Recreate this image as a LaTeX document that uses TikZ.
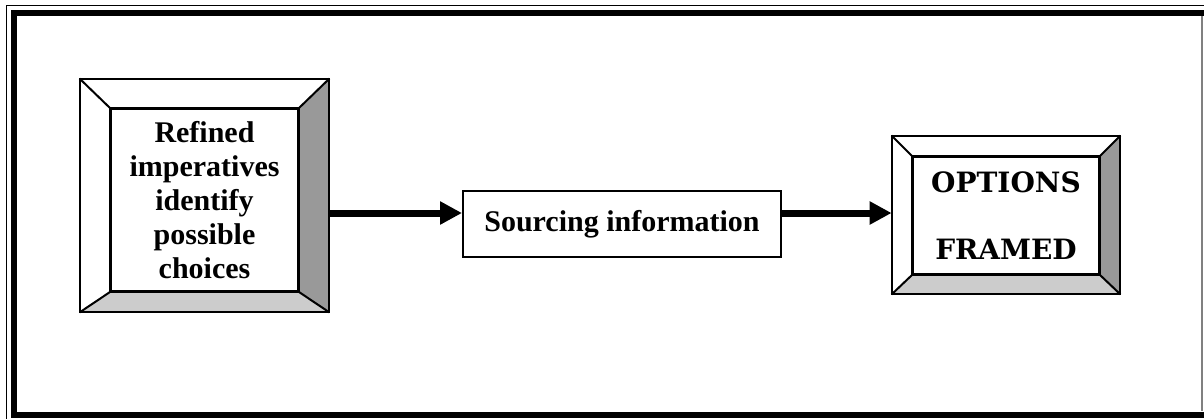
\documentclass[tikz,border=0pt]{standalone}
\usepackage{fontspec}
\setmainfont{Liberation Serif}
\newfontfamily\optfont{DejaVu Serif}
\usepackage{tikz}
\usetikzlibrary{arrows.meta}
\definecolor{bevdark}{HTML}{999999}
\definecolor{bevlight}{HTML}{CCCCCC}
\tikzstyle{outerbox} = [rectangle, inner sep=0pt]
\tikzstyle{innerbox} = [rectangle, draw=black, line width=1pt, fill=white, inner sep=0pt, text centered, align=center]
\tikzstyle{plainbox} = [rectangle, draw=black, line width=1pt, inner sep=0pt, text centered, font=\fontsize{15}{17}\selectfont\bfseries]
\tikzstyle{edge} = [line width=1pt, line join=miter]
\tikzstyle{arrow} = [line width=3.5pt, -{Triangle[length=11pt, width=11pt]}]
% bevelled frame between an outer node #1 and an inner node #2
\newcommand{\bevel}[2]{%
  \fill[bevdark] (#1.north east) -- (#1.south east) -- (#2.south east) -- (#2.north east) -- cycle;
  \fill[bevlight] (#1.south west) -- (#1.south east) -- (#2.south east) -- (#2.south west) -- cycle;
  \draw[edge] (#1.north west) -- (#2.north west) (#1.north east) -- (#2.north east)
              (#1.south west) -- (#2.south west) (#1.south east) -- (#2.south east);
  \draw[edge] (#1.south west) rectangle (#1.north east);
  \draw[edge] (#2.south west) rectangle (#2.north east);
}
\begin{document}
\begin{tikzpicture}[x=0.5pt, y=-0.5pt]
    \useasboundingbox (0,0) rectangle (1204,418);
    \clip (0,0) rectangle (1204,418);

    % page border
    \draw[line width=0.5pt] (6,5) rectangle (1230,430);
    \draw[line width=3pt] (1230,12.5) -- (14,12.5) -- (14,414.5) -- (1230,414.5);
    \draw[gray, line width=0.6pt] (1202,16) -- (1202,411);

    \node (refout) [outerbox, minimum width=124.5pt, minimum height=116.5pt] at (204.5,195.5) {};
    \node (ref) [innerbox, minimum width=93.5pt, minimum height=91pt, font=\fontsize{15}{17}\selectfont\bfseries] at (204.5,200)
        {Refined\\imperatives\\identify\\possible\\choices};
    \bevel{refout}{ref}

    \node (src) [plainbox, minimum width=159pt, minimum height=33pt] at (622,224) {Sourcing information};

    \node (optout) [outerbox, minimum width=114pt, minimum height=79pt] at (1006,215) {};
    \node (opt) [innerbox, minimum width=93pt, minimum height=58.5pt, font=\fontsize{14}{16.75}\selectfont\optfont\bfseries] at (1006,215.5)
        {OPTIONS\\[16.75pt]FRAMED};
    \bevel{optout}{opt}

    \draw [arrow] ([yshift=-8.75pt]refout.east) -- ([yshift=5.5pt]src.west);
    \draw [arrow] ([yshift=5.5pt]src.east) -- ([yshift=1pt]optout.west);
\end{tikzpicture}
\end{document}
